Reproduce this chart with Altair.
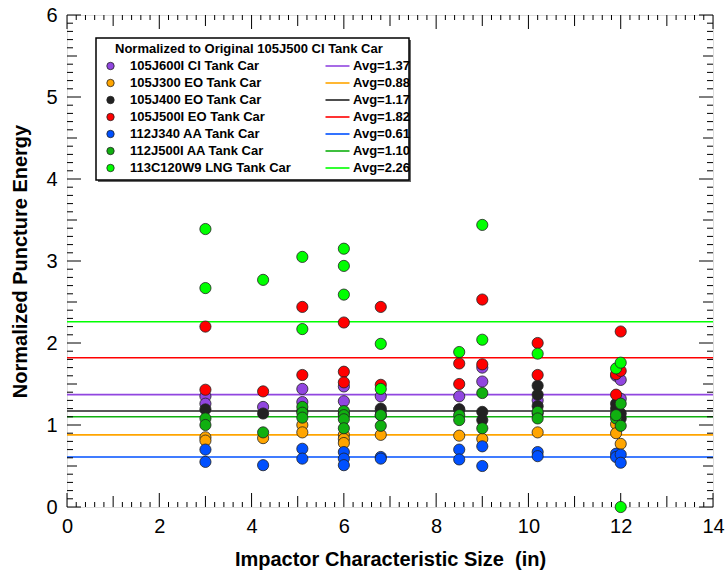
import altair as alt
import pandas as pd
import numpy as np

# ---------------- data ----------------
series_names = [
    "105J600I CI Tank Car",
    "105J300 EO Tank Car",
    "105J400 EO Tank Car",
    "105J500I EO Tank Car",
    "112J340 AA Tank Car",
    "112J500I AA Tank Car",
    "113C120W9 LNG Tank Car",
]
series_colors = ["#9146E0", "#FFA500", "#222222", "#FF0000", "#0050FF", "#10B010", "#00FF00"]
avg_values = [1.37, 0.88, 1.17, 1.82, 0.61, 1.10, 2.26]
avg_labels = ["Avg=1.37", "Avg=0.88", "Avg=1.17", "Avg=1.82", "Avg=0.61", "Avg=1.10", "Avg=2.26"]

# (x, y) pairs per series
p_x = [3, 3, 4.25, 5.1, 5.1, 6, 6, 6.8, 6.8, 8.5, 8.5, 9, 9, 10.2, 11.9, 11.9, 12, 12]
p_y = [1.35, 1.26, 1.22, 1.44, 1.28, 1.47, 1.29, 1.35, 1.17, 1.35, 1.19, 1.70, 1.53, 1.30, 1.60, 1.14, 1.55, 1.32]

o_x = [3, 3, 4.25, 5.1, 5.1, 6, 6, 6, 6.8, 8.5, 9, 10.2, 11.9, 11.9, 12]
o_y = [0.85, 0.81, 0.84, 1.00, 0.91, 0.88, 0.83, 0.78, 0.88, 0.87, 0.83, 0.91, 1.01, 0.90, 0.77]

k_x = [3, 4.25, 5.1, 6, 6.8, 6.8, 8.5, 9, 9, 10.2, 10.2, 10.2, 10.2, 11.9, 11.9, 12, 12]
k_y = [1.19, 1.14, 1.17, 1.14, 1.20, 1.12, 1.19, 1.16, 1.06, 1.48, 1.37, 1.23, 1.14, 1.26, 1.20, 1.14, 1.08]

r_x = [3, 3, 4.25, 5.1, 5.1, 6, 6, 6, 6.8, 6.8, 8.5, 8.5, 9, 9, 10.2, 10.2, 11.9, 11.9, 12, 12]
r_y = [2.20, 1.43, 1.41, 2.44, 1.61, 2.25, 1.65, 1.52, 2.44, 1.49, 1.75, 1.50, 2.53, 1.74, 2.00, 1.61, 1.62, 1.37, 2.14, 1.66]

b_x = [3, 3, 4.25, 5.1, 5.1, 6, 6, 6, 6.8, 6.8, 8.5, 8.5, 9, 9, 10.2, 10.2, 11.9, 11.9, 12, 12]
b_y = [0.70, 0.55, 0.51, 0.71, 0.59, 0.67, 0.59, 0.51, 0.61, 0.59, 0.70, 0.58, 0.74, 0.50, 0.67, 0.62, 0.65, 0.61, 0.64, 0.54]

g_x = [3, 3, 4.25, 5.1, 5.1, 5.1, 6, 6, 6, 6, 6.8, 6.8, 8.5, 8.5, 9, 9, 10.2, 10.2, 11.9, 11.9, 12, 12]
g_y = [1.08, 1.00, 0.91, 1.22, 1.15, 1.09, 1.17, 1.12, 1.07, 0.96, 0.99, 1.12, 1.12, 1.06, 1.39, 0.96, 1.16, 1.08, 1.08, 1.12, 1.26, 0.99]

l_x = [3, 3, 4.25, 5.1, 5.1, 6, 6, 6, 6.8, 6.8, 8.5, 9, 9, 10.2, 11.9, 12, 12]
l_y = [3.39, 2.67, 2.77, 3.05, 2.17, 3.15, 2.94, 2.59, 1.99, 1.44, 1.89, 3.44, 2.04, 1.87, 1.69, 1.76, 0.00]

x_label_values = [0, 2, 4, 6, 8, 10, 12, 14]
y_label_values = [0, 1, 2, 3, 4, 5, 6]

# ---------------- tables ----------------
all_xy = [(p_x, p_y), (o_x, o_y), (k_x, k_y), (r_x, r_y), (b_x, b_y), (g_x, g_y), (l_x, l_y)]
rows = []
for i, (xs, ys) in enumerate(all_xy):
    for xv, yv in zip(xs, ys):
        rows.append({"x": xv, "y": yv, "series": series_names[i], "order": i})
pts = pd.DataFrame(rows)
avg_df = pd.DataFrame({"avg": avg_values, "label": avg_labels})

W, H = 646, 492
FONT = "Liberation Sans"
xscale = alt.Scale(domain=[0, 14], nice=False, zero=False)
yscale = alt.Scale(domain=[0, 6], nice=False, zero=False)

x_axis = alt.Axis(
    values=x_label_values, title="Impactor Characteristic Size \u00a0(in)",
    ticks=False, domain=False, grid=False, labelFlush=False, labelOverlap=False,
    labelFont=FONT, labelFontSize=20, labelColor="black", labelPadding=9,
    titleFont=FONT, titleFontSize=20, titleFontWeight="bold", titleColor="black", titlePadding=13,
)
y_axis = alt.Axis(
    values=y_label_values, title="Normalized Puncture Energy",
    ticks=False, domain=False, grid=False, labelFlush=False, labelOverlap=False,
    labelFont=FONT, labelFontSize=20, labelColor="black", labelPadding=10,
    titleFont=FONT, titleFontSize=20, titleFontWeight="bold", titleColor="black", titlePadding=15,
)

# ---------------- layers ----------------
avg_lines = alt.Chart(avg_df).mark_rule(strokeWidth=1.6).encode(
    y=alt.Y("avg:Q", scale=yscale, axis=y_axis),
    stroke=alt.Stroke(
        "label:N",
        scale=alt.Scale(domain=avg_labels, range=series_colors),
        legend=alt.Legend(
            orient="none", legendX=264, legendY=44.5, title=None, padding=0,
            symbolType="M-2.4,0H2.4", symbolSize=100, symbolStrokeWidth=1.6,
            labelFont=FONT, labelFontSize=13, labelFontWeight="bold", labelColor="black",
            labelOffset=9, rowPadding=3, labelLimit=200,
        ),
    ),
)

points = alt.Chart(pts).mark_circle(size=125, opacity=1, stroke="#222", strokeWidth=0.8).encode(
    x=alt.X("x:Q", scale=xscale, axis=x_axis),
    y=alt.Y("y:Q", scale=yscale, axis=y_axis),
    fill=alt.Fill(
        "series:N",
        scale=alt.Scale(domain=series_names, range=series_colors),
        legend=alt.Legend(
            orient="none", legendX=37, legendY=44.5, title=None, padding=0,
            symbolType="circle", symbolSize=55, symbolStrokeColor="#222", symbolStrokeWidth=0.8,
            symbolOpacity=1,
            labelFont=FONT, labelFontSize=13, labelFontWeight="bold", labelColor="black",
            labelOffset=13, rowPadding=3, labelLimit=300,
        ),
    ),
    order=alt.Order("order:Q"),
)

# axis ticks drawn inside the frame
def xticks(vals, length):
    d = pd.DataFrame({"v": vals})
    bottom = alt.Chart(d).mark_rule(color="black", strokeWidth=1).encode(
        x=alt.X("v:Q", scale=xscale, axis=x_axis), y=alt.value(H), y2=alt.value(H - length))
    top = alt.Chart(d).mark_rule(color="black", strokeWidth=1).encode(
        x=alt.X("v:Q", scale=xscale, axis=x_axis), y=alt.value(0), y2=alt.value(length))
    return [bottom, top]

def yticks(vals, length):
    d = pd.DataFrame({"v": vals})
    left = alt.Chart(d).mark_rule(color="black", strokeWidth=1).encode(
        y=alt.Y("v:Q", scale=yscale, axis=y_axis), x=alt.value(0), x2=alt.value(length))
    right = alt.Chart(d).mark_rule(color="black", strokeWidth=1).encode(
        y=alt.Y("v:Q", scale=yscale, axis=y_axis), x=alt.value(W), x2=alt.value(W - length))
    return [left, right]

xt = np.round(np.arange(0, 14.001, 0.2), 2)
x_major = [v for v in xt if abs(v - round(v)) < 1e-6 and int(round(v)) % 2 == 0]
x_mid = [v for v in xt if abs(v - round(v)) < 1e-6 and int(round(v)) % 2 == 1]
x_minor = [v for v in xt if abs(v - round(v)) > 1e-6]

yt = np.round(np.arange(0, 6.001, 0.1), 2)
y_major = [v for v in yt if abs(v - round(v)) < 1e-6]
y_mid = [v for v in yt if abs(v * 2 - round(v * 2)) < 1e-6 and abs(v - round(v)) > 1e-6]
y_minor = [v for v in yt if abs(v * 2 - round(v * 2)) > 1e-6]

tick_layers = (xticks(x_minor, 5) + xticks(x_mid, 11) + xticks(x_major, 14)
               + yticks(y_minor, 6) + yticks(y_mid, 10) + yticks(y_major, 14))

# legend frame and heading
box_df = pd.DataFrame({"k": [0]})
box_shadow = alt.Chart(box_df).mark_rect(fill="#666").encode(
    x=alt.value(31), x2=alt.value(344), y=alt.value(25), y2=alt.value(167))
box = alt.Chart(box_df).mark_rect(fill="white", stroke="black", strokeWidth=1.5).encode(
    x=alt.value(29), x2=alt.value(342), y=alt.value(23), y2=alt.value(165))
heading = alt.Chart(box_df).mark_text(
    text="Normalized to Original 105J500 CI Tank Car", font=FONT, fontSize=13,
    fontWeight="bold", align="left", baseline="middle", color="black",
).encode(x=alt.value(48), y=alt.value(34))

chart = alt.layer(
    avg_lines, *tick_layers, box_shadow, box, heading, points,
).resolve_scale(fill="independent", stroke="independent").properties(
    width=W, height=H,
    autosize=alt.AutoSizeParams(type="none"),
    padding={"left": 67, "top": 15, "right": 13, "bottom": 73},
).configure_view(stroke="black", strokeWidth=1.6).configure(background="white")

chart.save("out.html", embed_options={"renderer": "svg", "actions": False})
